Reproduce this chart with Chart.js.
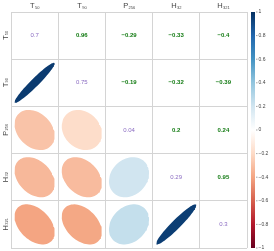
<!DOCTYPE html>
<html>
<head>
<meta charset="utf-8">
<script src="https://cdn.jsdelivr.net/npm/chart.js@4/dist/chart.umd.min.js"></script>
<style>
  html, body { margin: 0; padding: 0; background: #fff; }
  #wrap { width: 274px; height: 251px; }
</style>
</head>
<body>
<div id="wrap"><canvas id="myChart"></canvas></div>
<script>
/* data */
var varNames = ['T', 'T', 'P', 'H', 'H'];
var varSubs = ['50', '90', '256', '32', '321'];
var diagValues = [0.7, 0.75, 0.04, 0.29, 0.3];
// upper triangle, row by row
var corrT50 = [0.96, -0.29, -0.33, -0.4];
var corrT90 = [-0.19, -0.32, -0.39];
var corrP256 = [0.2, 0.24];
var corrH32 = [0.95];
var colorTicks = [1, 0.8, 0.6, 0.4, 0.2, 0, -0.2, -0.4, -0.6, -0.8, -1];

var upper = [corrT50, corrT90, corrP256, corrH32];
var n = varNames.length;

function corrAt(i, j) {
  if (i > j) { var t = i; i = j; j = t; }
  return upper[i][j - i - 1];
}

/* RdBu palette like corrplot */
var palette = ['#67001F', '#B2182B', '#D6604D', '#F4A582', '#FDDBC7', '#FFFFFF',
  '#D1E5F0', '#92C5DE', '#4393C3', '#2166AC', '#053061'];

function hexToRgb(h) {
  return [parseInt(h.substr(1, 2), 16), parseInt(h.substr(3, 2), 16), parseInt(h.substr(5, 2), 16)];
}

function corrColor(r) {
  var pos = (r + 1) / 2 * (palette.length - 1);
  var k = Math.min(Math.floor(pos), palette.length - 2);
  var f = pos - k;
  var a = hexToRgb(palette[k]), b = hexToRgb(palette[k + 1]);
  var c = a.map(function (v, idx) { return Math.round(v + (b[idx] - v) * f); });
  return 'rgb(' + c.join(',') + ')';
}

function fmt(v) {
  return String(v).replace('-', '\u2212');
}

/* ellipses in the lower triangle */
function ellipsePoints(r, col, row) {
  var th = Math.acos(r) / 2;
  var pts = [];
  for (var s = 0; s <= 72; s++) {
    var k = s / 72 * 2 * Math.PI;
    pts.push({
      x: col + 0.5 + 0.85 * Math.cos(k + th) / 2,
      y: row + 0.5 - 0.85 * Math.cos(k - th) / 2
    });
  }
  return pts;
}

var datasets = [];
for (var i = 1; i < n; i++) {
  for (var j = 0; j < i; j++) {
    var r = corrAt(i, j);
    datasets.push({
      data: ellipsePoints(r, j, i),
      showLine: true,
      fill: 'shape',
      backgroundColor: corrColor(r),
      borderColor: corrColor(r),
      borderWidth: 0,
      pointRadius: 0,
      tension: 0
    });
  }
}

var FONT = '"Liberation Sans", Arial, sans-serif';

function drawLabel(ctx, main, sub, x, y, align) {
  ctx.font = '7.5px ' + FONT;
  var w1 = ctx.measureText(main).width;
  ctx.font = '4px ' + FONT;
  var w2 = ctx.measureText(sub).width;
  var x0 = x - (w1 + w2) / 2;
  ctx.textAlign = 'left';
  ctx.textBaseline = 'alphabetic';
  ctx.font = '7.5px ' + FONT;
  ctx.fillText(main, x0, y);
  ctx.font = '4px ' + FONT;
  ctx.fillText(sub, x0 + w1 + 0.3, y + 0.8);
}

var textPlugin = {
  id: 'corrText',
  afterDraw: function (chart) {
    var ctx = chart.ctx;
    var xs = chart.scales.x, ys = chart.scales.y, cs = chart.scales.cbar;
    var area = chart.chartArea;
    ctx.save();

    // numbers
    ctx.textAlign = 'center';
    ctx.textBaseline = 'middle';
    for (var i = 0; i < n; i++) {
      for (var j = i; j < n; j++) {
        var px = xs.getPixelForValue(j + 0.5);
        var py = ys.getPixelForValue(i + 0.5);
        if (i === j) {
          ctx.fillStyle = '#8b6cc2';
          ctx.font = '6px ' + FONT;
          ctx.fillText(fmt(diagValues[i]), px, py);
        } else {
          ctx.fillStyle = '#117a11';
          ctx.font = 'bold 6px ' + FONT;
          ctx.fillText(fmt(corrAt(i, j)), px, py);
        }
      }
    }

    // variable labels
    ctx.fillStyle = '#444';
    for (var k = 0; k < n; k++) {
      drawLabel(ctx, varNames[k], varSubs[k], xs.getPixelForValue(k + 0.5), 8);
      ctx.save();
      ctx.translate(7.5, ys.getPixelForValue(k + 0.5));
      ctx.rotate(-Math.PI / 2);
      drawLabel(ctx, varNames[k], varSubs[k], 0, 0);
      ctx.restore();
    }

    // colour bar
    var bx = area.right + 4, bw = 4;
    var top = cs.getPixelForValue(1), bot = cs.getPixelForValue(-1);
    var grad = ctx.createLinearGradient(0, top, 0, bot);
    for (var p = 0; p < palette.length; p++) {
      grad.addColorStop(p / (palette.length - 1), palette[palette.length - 1 - p]);
    }
    ctx.fillStyle = grad;
    ctx.fillRect(bx, top, bw, bot - top);

    ctx.strokeStyle = '#666';
    ctx.lineWidth = 0.6;
    ctx.fillStyle = '#444';
    ctx.font = '5px ' + FONT;
    ctx.textAlign = 'left';
    ctx.textBaseline = 'middle';
    colorTicks.forEach(function (t) {
      var ty = cs.getPixelForValue(t);
      ctx.beginPath();
      ctx.moveTo(bx + bw + 1, ty);
      ctx.lineTo(bx + bw + 2.5, ty);
      ctx.stroke();
      ctx.fillText(fmt(t), bx + bw + 3.5, ty);
    });

    ctx.restore();
  }
};

var ctx = document.getElementById('myChart').getContext('2d');
new Chart(ctx, {
  type: 'scatter',
  data: { datasets: datasets },
  options: {
    responsive: true,
    maintainAspectRatio: false,
    animation: false,
    layout: { padding: { left: 11, top: 12, right: 27, bottom: 3 } },
    plugins: { legend: { display: false }, tooltip: { enabled: false } },
    scales: {
      x: {
        type: 'linear', min: 0, max: 5,
        ticks: { stepSize: 1, display: false },
        grid: { color: '#d4d4d4', lineWidth: 1, drawTicks: false },
        border: { display: false },
        afterFit: function (s) { s.height = 0; }
      },
      y: {
        type: 'linear', min: 0, max: 5, reverse: true,
        ticks: { stepSize: 1, display: false },
        grid: { color: '#d4d4d4', lineWidth: 1, drawTicks: false },
        border: { display: false },
        afterFit: function (s) { s.width = 0; }
      },
      cbar: {
        type: 'linear', min: -1, max: 1, position: 'right',
        display: false
      }
    }
  },
  plugins: [textPlugin]
});
</script>
</body>
</html>
